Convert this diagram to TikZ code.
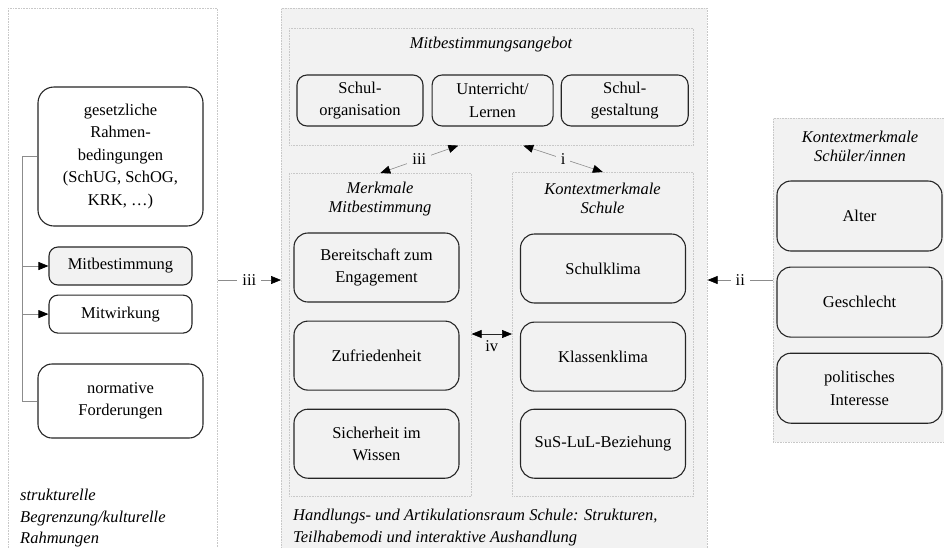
\documentclass[tikz,border=0pt]{standalone}
\usepackage{fontspec}
\setmainfont{Liberation Serif}
\usetikzlibrary{positioning,arrows.meta}
\definecolor{panelgray}{HTML}{F2F2F2}
\definecolor{dotline}{HTML}{C8C8C8}
\definecolor{boxline}{HTML}{262626}
\definecolor{connline}{HTML}{8C8C8C}

\tikzset{
  panel/.style={draw=dotline, densely dotted, line width=0.6pt, inner sep=0pt, anchor=north west},
  frame/.style={panel, fill=panelgray},
  rbox/.style={draw=boxline, line width=1.1pt, rounded corners=14pt, fill=panelgray, align=center,
    inner sep=2pt, minimum width=165pt, minimum height=69pt},
  smallbox/.style={rbox, rounded corners=9pt, minimum height=38pt, minimum width=143pt},
  topbox/.style={rbox, rounded corners=10pt, minimum height=51pt},
  title/.style={font=\fontsize{16.5}{19}\selectfont\itshape, align=center},
  arrowtip/.style={-{Triangle[length=10pt,width=8pt,color=black]}},
  dualtip/.style={{Triangle[length=10pt,width=8pt,color=black]}-{Triangle[length=10pt,width=8pt,color=black]}},
  conn/.style={draw=connline, line width=0.6pt},
  lbl/.style={fill=panelgray, inner sep=5pt},
  bracket/.style={draw=connline, line width=0.8pt},
}

\begin{document}
\begin{tikzpicture}[x=1pt, y=-1pt, font=\fontsize{16.5}{22.5}\selectfont, node distance=18pt]
\useasboundingbox (0,0) rectangle (944,547);
\clip (0,0) rectangle (944,547);

% Rahmen
\node[panel, fill=white, minimum width=209pt, minimum height=560pt] (struktur) at (8,8) {};
\node[frame, minimum width=426pt, minimum height=560pt] (schule) at (281,8) {};
\node[frame, minimum width=200pt, minimum height=324pt] (schueler) at (773,118) {};

% links: strukturelle Begrenzung
\node[rbox, fill=white, minimum height=139pt, rounded corners=16pt] (gesetz) at (120.5,156.5)
  {gesetzliche\\Rahmen-\\bedingungen\\(SchUG, SchOG,\\KRK, …)};
\node[smallbox] (mitbest) at (120.5,266) {Mitbestimmung};
\node[smallbox, fill=white, below=9pt of mitbest] (mitwirk) {Mitwirkung};
\node[rbox, fill=white, minimum height=74pt] (normativ) at (120.5,401) {normative\\Forderungen};
\node[anchor=north west, inner sep=0pt, align=left, font=\fontsize{16.5}{21.5}\selectfont\itshape]
  (struktext) at (20,489) {strukturelle\\Begrenzung/kulturelle\\Rahmungen};

% Mitte: Schule
\node[frame, minimum width=404pt, minimum height=117pt] (angebot) at (289,28) {};
\node[title] (angebottitel) at (491,45) {Mitbestimmungsangebot};
\node[topbox, minimum width=126pt] (schulorg) at (360,100.5) {Schul-\\organisation};
\node[topbox, minimum width=121pt, right=8pt of schulorg] (unterricht) {Unterricht/\\Lernen};
\node[topbox, minimum width=127pt, right=7pt of unterricht] (schulgest) {Schul-\\gestaltung};

\node[frame, minimum width=182pt, minimum height=323pt] (merkmale) at (289,173) {};
\node[frame, minimum width=181pt, minimum height=324pt] (kontext) at (512,172) {};
\node[title] (merktitel) at (380,199.5) {Merkmale\\Mitbestimmung};
\node[title] (kontexttitel) at (602.5,198.5) {Kontextmerkmale\\Schule};

\node[rbox] (bereit) at (376.5,267.5) {Bereitschaft zum\\Engagement};
\node[rbox, below=of bereit] (zufrieden) {Zufriedenheit};
\node[rbox, below=of zufrieden] (sicher) {Sicherheit im\\Wissen};

\node[rbox] (schulklima) at (603,268.5) {Schulklima};
\node[rbox, below=of schulklima] (klassen) {Klassenklima};
\node[rbox, below=17pt of klassen] (beziehung) {SuS-LuL-Beziehung};

\node[anchor=north west, inner sep=0pt, align=left, font=\fontsize{16.5}{22}\selectfont\itshape]
  (raumtext) at (293,509) {Handlungs- und Artikulationsraum Schule: Strukturen,\\Teilhabemodi und interaktive Aushandlung};

% rechts: Schueler/innen
\node[title] (schuelertitel) at (860,146) {Kontextmerkmale\\Schüler/innen};
\node[rbox, minimum height=70pt] (alter) at (859.5,216) {Alter};
\node[rbox, minimum height=70pt, below=15pt of alter] (geschlecht) {Geschlecht};
\node[rbox, minimum height=70pt, below=15pt of geschlecht] (politik) {politisches\\Interesse};

% Verbindungen
\coordinate (brk) at (22,0);
\coordinate (mitte) at (0,280);
\draw[bracket] (gesetz.west) -- (brk |- gesetz.west) -- (brk |- normativ.west) -- (normativ.west);
\draw[bracket, arrowtip] (brk |- mitbest.west) -- (mitbest.west);
\draw[bracket, arrowtip] (brk |- mitwirk.west) -- (mitwirk.west);

\draw[conn, arrowtip] (struktur.east |- mitte) -- node[lbl, fill=white] {iii} (schule.west |- mitte);
\draw[conn, arrowtip] (schueler.west |- mitte) -- node[lbl, fill=white] {ii} (schule.east |- mitte);
\draw[conn, dualtip] ([xshift=-33pt]angebot.south) -- node[lbl] {iii} (merkmale.north);
\draw[conn, dualtip] ([xshift=32pt]angebot.south) -- node[lbl] {i} (kontext.north);
\draw[conn, draw=boxline, dualtip] (merkmale.east |- 0,334) -- node[below=3pt] {iv} (kontext.west |- 0,334);
\end{tikzpicture}
\end{document}
